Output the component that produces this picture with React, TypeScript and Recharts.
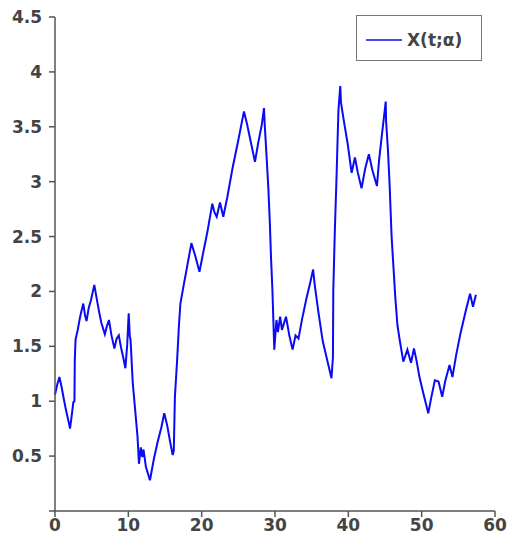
import React from "react";
import { LineChart, Line, XAxis, YAxis } from "recharts";

const times: number[] = [
  0.0, 0.3, 0.6, 0.9, 1.2, 1.5, 1.8, 2.05, 2.3, 2.5, 2.65, 2.7, 2.8, 3.1, 3.4, 3.6, 3.86, 4.1, 4.3, 4.6,
  4.9, 5.36, 5.7, 6.0, 6.3, 6.8, 7.1, 7.36, 7.7, 8.1, 8.4, 8.7, 9.0, 9.3, 9.6, 9.85, 10.05, 10.2, 10.3, 10.6,
  11.25, 11.45, 11.7, 11.9, 12.07, 12.4, 12.95, 13.5, 14.0, 14.5, 14.9, 15.3, 15.7, 16.05, 16.2, 16.35, 16.65, 16.9, 17.1, 17.5,
  18.0, 18.6, 19.1, 19.7, 20.2, 20.8, 21.45, 21.75, 22.05, 22.5, 22.95, 23.5, 24.2, 25.0, 25.77, 26.2, 26.8, 27.27, 27.7, 28.2,
  28.5, 28.6, 28.85, 29.1, 29.3, 29.45, 29.65, 29.9, 30.2, 30.4, 30.7, 30.95, 31.5, 31.95, 32.4, 32.8, 33.2, 33.7, 34.3, 34.8,
  35.2, 35.4, 35.9, 36.5, 37.1, 37.7, 37.9, 37.95, 38.15, 38.4, 38.65, 38.9, 39.0, 39.4, 39.9, 40.45, 40.9, 41.3, 41.8, 42.3,
  42.8, 43.3, 43.9, 44.2, 44.55, 45.1, 45.15, 45.4, 45.6, 45.9, 46.4, 46.7, 47.0, 47.5, 48.05, 48.55, 48.95, 49.3, 49.7, 50.2,
  50.9, 51.3, 51.8, 52.3, 52.8, 53.2, 53.8, 54.2, 54.7, 55.3, 56.0, 56.6, 57.0, 57.4,
];

const values: number[] = [
  1.06, 1.15, 1.22, 1.13, 1.02, 0.92, 0.83, 0.75, 0.88, 0.99, 1.0, 1.37, 1.56, 1.65, 1.76, 1.82, 1.89, 1.78, 1.73, 1.85,
  1.92, 2.06, 1.93, 1.82, 1.72, 1.61, 1.69, 1.74, 1.6, 1.48, 1.57, 1.6, 1.49, 1.4, 1.3, 1.52, 1.8, 1.59, 1.56, 1.17,
  0.68, 0.43, 0.58, 0.49, 0.56, 0.4, 0.28, 0.48, 0.63, 0.76, 0.89, 0.78, 0.63, 0.51, 0.55, 1.04, 1.37, 1.69, 1.89, 2.04,
  2.22, 2.44, 2.33, 2.18, 2.35, 2.55, 2.8, 2.72, 2.68, 2.81, 2.68, 2.86, 3.12, 3.38, 3.64, 3.52, 3.33, 3.18, 3.35, 3.52,
  3.67, 3.52, 3.23, 2.93, 2.62, 2.32, 2.01, 1.47, 1.74, 1.63, 1.77, 1.65, 1.77, 1.6, 1.47, 1.6, 1.57, 1.75, 1.94, 2.08,
  2.2, 2.07, 1.82, 1.55, 1.38, 1.21, 1.4, 2.01, 2.53, 3.06, 3.65, 3.87, 3.72, 3.55, 3.35, 3.08, 3.22, 3.08, 2.94, 3.12,
  3.25, 3.1, 2.96, 3.2, 3.41, 3.73, 3.55, 3.29, 3.02, 2.5, 1.95, 1.69, 1.56, 1.36, 1.47, 1.35, 1.48, 1.37, 1.22, 1.08,
  0.89, 1.03, 1.19, 1.18, 1.04, 1.18, 1.33, 1.22, 1.42, 1.62, 1.82, 1.98, 1.86, 1.97,
];

const xTicks: number[] = [0, 10, 20, 30, 40, 50, 60];
const yTicks: number[] = [0, 0.5, 1, 1.5, 2, 2.5, 3, 3.5, 4, 4.5];
const seriesName = "X(t;α)";

const data = times.map((t, i) => ({ t, x: values[i] }));

const fontFamily = "'DejaVu Sans', Verdana, sans-serif";
const textColor = "#444";
const axisColor = "#555";
const lineColor = "#0a0af5";

const LegendBox = () => (
  <div
    style={{
      position: "absolute",
      left: 356,
      top: 15,
      width: 126,
      height: 46,
      border: "1px solid #777",
      background: "#fff",
      boxSizing: "border-box",
    }}
  >
    <svg width={124} height={44} style={{ position: "absolute", left: 0, top: 0 }}>
      <line x1={9} x2={45} y1={24} y2={24} stroke={lineColor} strokeWidth={1.5} />
      <text
        x={50}
        y={24}
        dominantBaseline="central"
        fontFamily={fontFamily}
        fontWeight="bold"
        fontSize={17}
        fill={textColor}
      >
        {seriesName}
      </text>
    </svg>
  </div>
);

export default function App() {
  return (
    <div style={{ position: "absolute", left: 0, top: 0, width: 509, height: 538, background: "#fff" }}>
      <LineChart
        width={509}
        height={538}
        data={data}
        margin={{ top: 17, right: 14, bottom: 0, left: 0 }}
      >
        <XAxis
          type="number"
          dataKey="t"
          domain={[0, 60]}
          ticks={xTicks}
          interval={0}
          height={27}
          tickSize={6}
          tickMargin={2}
          stroke={axisColor}
          strokeWidth={1.5}
          tick={{ fill: textColor, fontSize: 17, fontWeight: "bold", fontFamily }}
        />
        <YAxis
          type="number"
          domain={[0, 4.5]}
          ticks={yTicks}
          interval={0}
          width={55}
          tickSize={6}
          tickMargin={7}
          stroke={axisColor}
          strokeWidth={1.5}
          tickFormatter={(v: number) => (v === 0 ? "" : String(v))}
          tick={{ fill: textColor, fontSize: 17, fontWeight: "bold", fontFamily }}
        />
        <Line
          type="linear"
          dataKey="x"
          name={seriesName}
          stroke={lineColor}
          strokeWidth={2}
          dot={false}
          isAnimationActive={false}
        />
      </LineChart>
      <LegendBox />
    </div>
  );
}
